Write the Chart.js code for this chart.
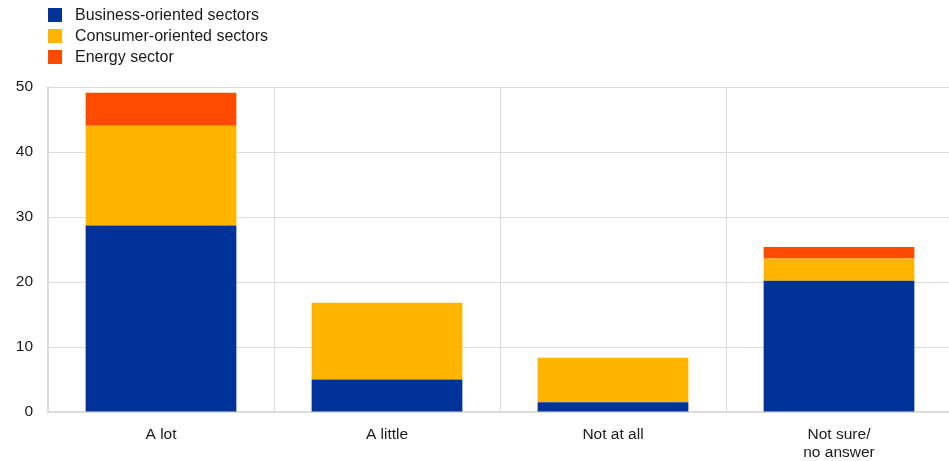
<!DOCTYPE html>
<html>
<head>
<meta charset="utf-8">
<script src="https://cdn.jsdelivr.net/npm/chart.js@4"></script>
<style>
  html, body { margin: 0; padding: 0; background: #fff; overflow: hidden; }
  #wrap { position: relative; width: 949px; height: 461px; overflow: hidden; }
  #c { display: block; }
  #legend { position: absolute; left: 48px; top: 4px; font-family: "Liberation Sans", Arial, sans-serif; font-size: 16px; color: #1a1a1a; }
  .item { display: flex; align-items: center; height: 21px; }
  .sw { width: 14px; height: 14px; margin-right: 13px; flex: none; }
</style>
</head>
<body>
<div id="wrap">
  <canvas id="c" width="952" height="461"></canvas>
  <div id="legend"></div>
</div>
<script>
const categories = ['A lot', 'A little', 'Not at all', ['Not sure/', 'no answer']];
const seriesNames = ['Business-oriented sectors', 'Consumer-oriented sectors', 'Energy sector'];
const business = [28.7, 5.0, 1.5, 20.2];
const consumer = [15.35, 11.8, 6.85, 3.4];
const energy = [5.05, 0, 0, 1.8];
const yTicks = [0, 10, 20, 30, 40, 50];
const colors = ['#003299', '#FFB400', '#FF4B00'];

const seriesValues = [business, consumer, energy];
const datasets = seriesNames.map((name, i) => ({
  label: name,
  data: seriesValues[i],
  backgroundColor: colors[i],
  borderWidth: 0,
  barPercentage: 0.667,
  categoryPercentage: 1.0
}));

const legend = document.getElementById('legend');
seriesNames.forEach((name, i) => {
  const row = document.createElement('div');
  row.className = 'item';
  const sw = document.createElement('span');
  sw.className = 'sw';
  sw.style.background = colors[i];
  const t = document.createElement('span');
  t.textContent = name;
  row.appendChild(sw);
  row.appendChild(t);
  legend.appendChild(row);
});

const fontSpec = { family: '"Liberation Sans", Arial, sans-serif', size: 15.5 };
const gridColor = '#dcdcdc';

new Chart(document.getElementById('c'), {
  type: 'bar',
  data: { labels: categories, datasets },
  options: {
    responsive: false,
    animation: false,
    layout: { padding: { top: 87, right: 0, left: 0, bottom: 0 } },
    plugins: { legend: { display: false }, tooltip: { enabled: false } },
    scales: {
      x: {
        stacked: true,
        grid: { color: gridColor, lineWidth: 1, drawTicks: false, offset: true },
        border: { color: gridColor, width: 2 },
        ticks: { font: fontSpec, color: '#1a1a1a', padding: 13, maxRotation: 0 },
        afterFit: (s) => { s.height = 49; }
      },
      y: {
        stacked: true,
        min: 0,
        max: 50,
        afterBuildTicks: (axis) => { axis.ticks = yTicks.map(v => ({ value: v })); },
        grid: { color: gridColor, lineWidth: 1, drawTicks: false },
        border: { color: gridColor, width: 2 },
        ticks: { font: fontSpec, color: '#1a1a1a', padding: 15 },
        afterFit: (s) => { s.width = 48; }
      }
    }
  }
});
</script>
</body>
</html>
